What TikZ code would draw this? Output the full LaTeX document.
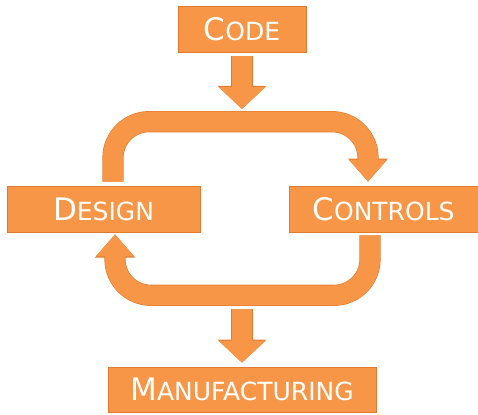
\documentclass[tikz,border=0pt]{standalone}
\usepackage{fontspec}
\setmainfont{DejaVu Sans}
\usetikzlibrary{arrows.meta}

\definecolor{boxorange}{HTML}{F79646}
\definecolor{edgeorange}{HTML}{E07A30}
\newcommand{\capsc}[2]{{\fontsize{31}{31}\selectfont #1}{\fontsize{25}{25}\selectfont #2}}

\begin{document}
\begin{tikzpicture}[x=1pt, y=-1pt,
  every node/.style={rectangle, fill=boxorange, draw=edgeorange, line width=0.6pt,
    text=white, inner sep=0pt},
  fat/.style={draw=boxorange, line width=20pt, rounded corners=36pt,
    -{Triangle[width=#1, length=22pt]},
    preaction={draw=edgeorange, line width=21.2pt,
      -{Triangle[width=#1+1.6pt, length=23.2pt]}}}]
  \useasboundingbox (0,0) rectangle (478,414);

  \node[minimum width=128pt, minimum height=46pt] (code) at (242,29) {\capsc{C}{ODE}};
  \node[minimum width=193pt, minimum height=46pt] (design) at (103.5,209) {\capsc{D}{ESIGN}};
  \node[minimum width=189pt, minimum height=46pt] (controls) at (383.5,209) {\capsc{C}{ONTROLS}};
  \node[minimum width=268pt, minimum height=45pt] (manu) at (242,389.5) {\capsc{M}{ANUFACTURING}};

  \coordinate (loopin) at (242,109);
  \coordinate (loopout) at (242,309);

  \draw[fat=46pt] ([yshift=-4pt]code.south) -- (loopin);
  \draw[fat=37pt] ([xshift=9.5pt,yshift=4pt]design.north) -- ++(0,-60)
    -| ([xshift=-15.5pt,yshift=4pt]controls.north);
  \draw[fat=37pt] ([xshift=-13.5pt,yshift=-3pt]controls.south) -- ++(0,60)
    -| ([xshift=11.5pt,yshift=-2pt]design.south);
  \draw[fat=46pt] (loopout) -- ([yshift=4pt]manu.north);
\end{tikzpicture}
\end{document}
